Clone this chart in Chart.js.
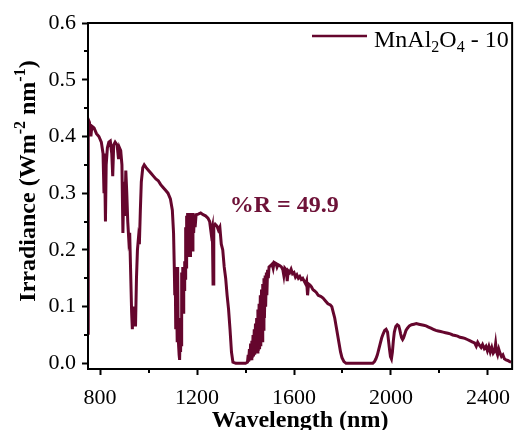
<!DOCTYPE html>
<html>
<head>
<meta charset="utf-8">
<script src="https://cdn.jsdelivr.net/npm/chart.js@4.4.1/dist/chart.umd.min.js"></script>
<style>
    html, body { margin: 0; padding: 0; background: #ffffff; }
    canvas { display: block; }
</style>
</head>
<body>
<canvas id="irradianceChart" width="520" height="430"></canvas>
<script>
// Datos (nm, W m-2 nm-1)
const wavelengths = [
    750, 751, 756, 762, 766, 775, 785, 795, 805, 812, 816, 818, 822, 825, 830, 836, 842, 848, 852, 856,
    862, 870, 876, 880, 885, 890, 894, 898, 902, 906, 910, 914, 918, 922, 926, 930, 933, 936, 939, 942,
    946, 950, 954, 958, 962, 966, 970, 976, 982, 990, 1000, 1010, 1020, 1030, 1040, 1050, 1060, 1070, 1080, 1090,
    1098, 1103, 1106, 1108, 1110, 1112, 1114, 1116, 1118, 1120, 1122, 1124, 1126, 1128, 1130, 1132, 1134, 1136,
    1137, 1139, 1141, 1143, 1145, 1147, 1149, 1151, 1153, 1155, 1157, 1159, 1161, 1163, 1165, 1167, 1169, 1171, 1173, 1175,
    1177, 1180, 1183, 1186, 1189, 1192, 1196, 1205, 1215, 1225, 1235, 1245, 1252, 1258, 1263, 1266, 1269, 1275, 1282, 1288, 1294,
    1300, 1306, 1312, 1318, 1324, 1330, 1336, 1342, 1348, 1360, 1380, 1400,
    1408, 1411, 1413, 1416, 1418, 1421, 1423, 1426, 1428, 1431, 1433, 1436, 1438, 1441, 1443, 1446, 1448, 1451, 1453, 1456,
    1458, 1461, 1463, 1466, 1468, 1471, 1473, 1476, 1478, 1481, 1483, 1486, 1488, 1491, 1494, 1497, 1503, 1510, 1514, 1518,
    1526, 1530, 1534, 1542, 1548, 1554, 1558, 1562, 1568, 1572, 1576, 1582, 1588, 1594, 1600, 1606, 1612, 1618, 1624, 1630,
    1636, 1642, 1648, 1652, 1656, 1660, 1666, 1672, 1678, 1684, 1692, 1700, 1710, 1720, 1730, 1740, 1750, 1756, 1762, 1768,
    1774, 1780, 1786, 1792, 1798, 1806, 1815, 1850, 1900, 1925, 1932, 1938, 1944, 1950, 1956, 1962, 1968, 1974, 1980, 1986,
    1990, 1994, 1998, 2002, 2006, 2010, 2014, 2020, 2026, 2032, 2036, 2040, 2044, 2048, 2052, 2056, 2062, 2068, 2076, 2085,
    2095, 2105, 2115, 2125, 2135, 2145, 2155, 2165, 2175, 2185, 2195, 2205, 2215, 2225, 2235, 2245, 2255, 2265, 2275, 2285,
    2295, 2305, 2315, 2325, 2335, 2345, 2352, 2358, 2365, 2372, 2378, 2385, 2392, 2398, 2404, 2410, 2416, 2422, 2428, 2432,
    2436, 2440, 2445, 2450, 2456, 2462, 2468, 2475, 2482, 2490, 2496
];
const irradiance = [
    0.053, 0.430, 0.425, 0.400, 0.418, 0.415, 0.405, 0.400, 0.390, 0.370, 0.300, 0.370, 0.250, 0.350, 0.380, 0.390, 0.392, 0.370, 0.330, 0.385,
    0.390, 0.385, 0.360, 0.380, 0.375, 0.350, 0.230, 0.320, 0.260, 0.340, 0.300, 0.250, 0.220, 0.230, 0.160, 0.090, 0.060, 0.100, 0.065, 0.090,
    0.065, 0.150, 0.200, 0.220, 0.210, 0.270, 0.320, 0.345, 0.350, 0.345, 0.340, 0.335, 0.330, 0.325, 0.322, 0.315, 0.310, 0.305, 0.300, 0.290,
    0.270, 0.230, 0.170, 0.120, 0.160, 0.060, 0.150, 0.100, 0.040, 0.170, 0.050, 0.030, 0.015, 0.006, 0.050, 0.020, 0.080, 0.030,
    0.160, 0.100, 0.170, 0.090, 0.170, 0.130, 0.180, 0.150, 0.240, 0.170, 0.260, 0.190, 0.265, 0.200, 0.265, 0.210, 0.262, 0.190, 0.265, 0.220,
    0.263, 0.200, 0.265, 0.230, 0.262, 0.240, 0.262, 0.263, 0.265, 0.262, 0.260, 0.256, 0.250, 0.230, 0.240, 0.140, 0.240, 0.245, 0.242, 0.235, 0.240,
    0.210, 0.200, 0.170, 0.150, 0.120, 0.095, 0.060, 0.020, 0.002, 0.000, 0.000, 0.000,
    0.002, 0.015, 0.003, 0.025, 0.005, 0.035, 0.008, 0.040, 0.010, 0.050, 0.012, 0.060, 0.015, 0.070, 0.018, 0.080, 0.020, 0.095, 0.022, 0.105,
    0.025, 0.120, 0.030, 0.130, 0.040, 0.140, 0.060, 0.150, 0.080, 0.155, 0.100, 0.160, 0.120, 0.165, 0.150, 0.170, 0.172, 0.175, 0.168, 0.178,
    0.176, 0.170, 0.174, 0.172, 0.170, 0.165, 0.155, 0.168, 0.165, 0.145, 0.163, 0.160, 0.166, 0.158, 0.160, 0.152, 0.156, 0.150, 0.153, 0.148,
    0.150, 0.145, 0.140, 0.145, 0.120, 0.140, 0.138, 0.135, 0.130, 0.128, 0.125, 0.120, 0.118, 0.115, 0.110, 0.105, 0.103, 0.100, 0.090, 0.080,
    0.065, 0.050, 0.035, 0.020, 0.010, 0.003, 0.000, 0.000, 0.000, 0.000, 0.003, 0.008, 0.015, 0.025, 0.035, 0.045, 0.052, 0.058, 0.060, 0.055,
    0.040, 0.025, 0.012, 0.008, 0.020, 0.040, 0.055, 0.065, 0.068, 0.066, 0.060, 0.052, 0.045, 0.042, 0.045, 0.050, 0.058, 0.062, 0.066, 0.068,
    0.069, 0.070, 0.069, 0.068, 0.067, 0.066, 0.064, 0.062, 0.060, 0.058, 0.057, 0.056, 0.055, 0.054, 0.053, 0.052, 0.050, 0.049, 0.048, 0.046,
    0.045, 0.044, 0.042, 0.040, 0.038, 0.036, 0.030, 0.037, 0.032, 0.028, 0.033, 0.026, 0.030, 0.022, 0.030, 0.020, 0.028, 0.018, 0.022, 0.035,
    0.020, 0.015, 0.025, 0.018, 0.012, 0.015, 0.008, 0.006, 0.005, 0.003, 0.002
];

const xTicks = [800, 1200, 1600, 2000, 2400];
const xMinorTicks = [1000, 1400, 1800, 2200];
const yTicks = [0.0, 0.1, 0.2, 0.3, 0.4, 0.5, 0.6];
const yMinorTicks = [0.05, 0.15, 0.25, 0.35, 0.45, 0.55];

const legendParts = [{ t: 'MnAl' }, { t: '2', sub: true }, { t: 'O' }, { t: '4', sub: true }, { t: ' - 10' }];
const yTitleParts = [{ t: 'Irradiance (Wm' }, { t: '-2', sup: true }, { t: ' nm' }, { t: '-1', sup: true }, { t: ')' }];
const xTitle = 'Wavelength (nm)';
const noteText = '%R = 49.9';

const lineColor = '#65062d';
const serif = '"Liberation Serif", "Times New Roman", serif';

// Texto con subíndices / superíndices
function richWidth(ctx, parts, size, weight) {
    let w = 0;
    parts.forEach(p => {
        const s = (p.sub || p.sup) ? Math.round(size * 0.66) : size;
        ctx.font = `${weight} ${s}px ${serif}`;
        w += ctx.measureText(p.t).width;
    });
    return w;
}

function drawRich(ctx, parts, x, y, size, weight) {
    ctx.textBaseline = 'alphabetic';
    ctx.textAlign = 'left';
    parts.forEach(p => {
        const s = (p.sub || p.sup) ? Math.round(size * 0.66) : size;
        const dy = p.sub ? size * 0.22 : (p.sup ? -size * 0.42 : 0);
        ctx.font = `${weight} ${s}px ${serif}`;
        ctx.fillText(p.t, x, y + dy);
        x += ctx.measureText(p.t).width;
    });
}

const framePlugin = {
    id: 'frameAndText',
    afterDraw(chart) {
        const ctx = chart.ctx;
        const area = chart.chartArea;
        const xs = chart.scales.x;
        const ys = chart.scales.y;
        ctx.save();

        // marco
        ctx.strokeStyle = '#000';
        ctx.lineWidth = 2;
        ctx.strokeRect(area.left, area.top, area.right - area.left, area.bottom - area.top);

        // marcas menores
        xMinorTicks.forEach(v => {
            const px = Math.round(xs.getPixelForValue(v));
            ctx.beginPath();
            ctx.moveTo(px, area.bottom);
            ctx.lineTo(px, area.bottom + 4);
            ctx.stroke();
        });
        yMinorTicks.forEach(v => {
            const py = Math.round(ys.getPixelForValue(v));
            ctx.beginPath();
            ctx.moveTo(area.left - 4, py);
            ctx.lineTo(area.left, py);
            ctx.stroke();
        });

        ctx.fillStyle = '#000';

        // título eje x
        ctx.font = `bold 24px ${serif}`;
        ctx.textAlign = 'center';
        ctx.textBaseline = 'alphabetic';
        ctx.fillText(xTitle, (area.left + area.right) / 2, 427);

        // título eje y
        const yw = richWidth(ctx, yTitleParts, 24, 'bold');
        ctx.save();
        ctx.translate(35, 181);
        ctx.rotate(-Math.PI / 2);
        drawRich(ctx, yTitleParts, -yw / 2, 0, 24, 'bold');
        ctx.restore();

        // leyenda
        ctx.strokeStyle = lineColor;
        ctx.lineWidth = 2.5;
        ctx.beginPath();
        ctx.moveTo(312, 36);
        ctx.lineTo(367, 36);
        ctx.stroke();
        ctx.fillStyle = '#000';
        drawRich(ctx, legendParts, 374, 46.5, 24, 'normal');

        // anotación
        ctx.fillStyle = '#6e1238';
        ctx.font = `bold 24px ${serif}`;
        ctx.textAlign = 'left';
        ctx.textBaseline = 'middle';
        ctx.fillText(noteText, xs.getPixelForValue(1335), ys.getPixelForValue(0.278));

        ctx.restore();
    }
};

const ctx = document.getElementById('irradianceChart').getContext('2d');
const irradianceChart = new Chart(ctx, {
    type: 'line',
    data: {
        datasets: [{
            label: 'MnAl2O4 - 10',
            data: wavelengths.map((w, i) => ({ x: w, y: irradiance[i] })),
            borderColor: lineColor,
            borderWidth: 3,
            pointRadius: 0,
            tension: 0,
            fill: false
        }]
    },
    options: {
        responsive: false,
        animation: false,
        layout: {
            padding: { top: 23, right: 2, left: 0, bottom: 0 }
        },
        plugins: {
            legend: { display: false },
            tooltip: { enabled: false }
        },
        scales: {
            x: {
                type: 'linear',
                min: 750,
                max: 2500,
                afterBuildTicks: axis => { axis.ticks = xTicks.map(v => ({ value: v })); },
                afterFit: axis => { axis.height = 61; },
                ticks: {
                    autoSkip: false,
                    maxRotation: 0,
                    padding: 10,
                    color: '#000',
                    font: { family: serif, size: 22 },
                    callback: v => v
                },
                grid: {
                    drawOnChartArea: false,
                    drawTicks: true,
                    tickLength: 6,
                    tickWidth: 2,
                    tickColor: '#000'
                },
                border: { display: true, width: 2, color: '#000' }
            },
            y: {
                min: -0.01,
                max: 0.6,
                afterBuildTicks: axis => { axis.ticks = yTicks.map(v => ({ value: v })); },
                afterFit: axis => { axis.width = 88; },
                ticks: {
                    autoSkip: false,
                    padding: 6,
                    color: '#000',
                    font: { family: serif, size: 22 },
                    callback: v => v.toFixed(1)
                },
                grid: {
                    drawOnChartArea: false,
                    drawTicks: true,
                    tickLength: 6,
                    tickWidth: 2,
                    tickColor: '#000'
                },
                border: { display: true, width: 2, color: '#000' }
            }
        }
    },
    plugins: [framePlugin]
});
</script>
</body>
</html>
